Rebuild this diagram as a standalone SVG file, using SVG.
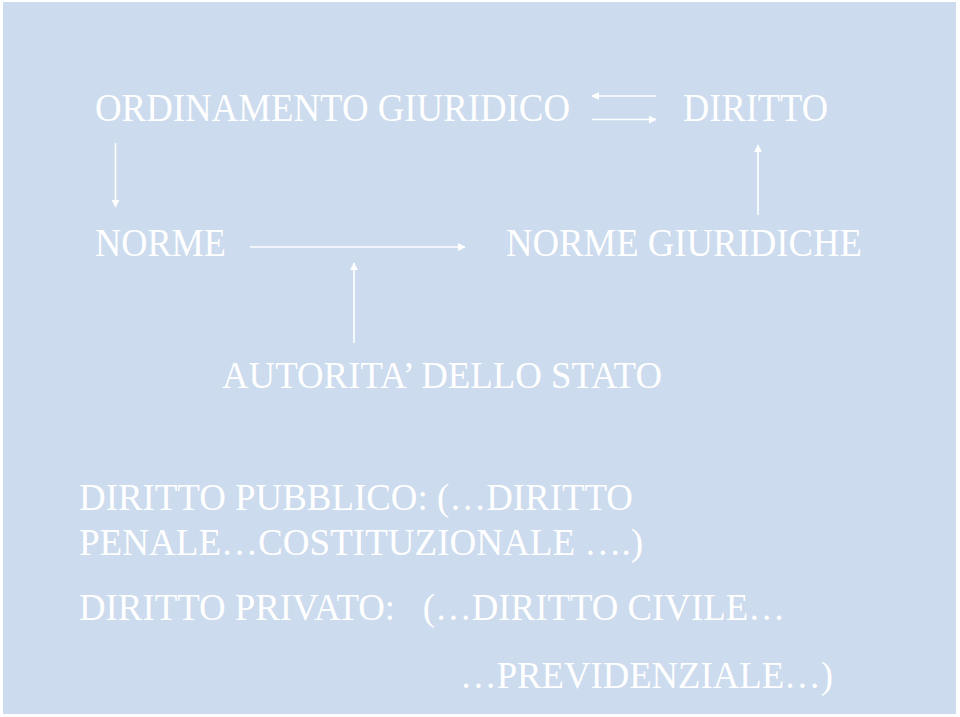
<svg xmlns="http://www.w3.org/2000/svg" width="960" height="717" viewBox="0 0 960 717">
<defs>
<style>
.t{font-family:"Liberation Serif","Times New Roman",serif;fill:#FFFFFF;font-size:37px}
.big{font-size:39px}
.c{stroke:#FFFFFF;stroke-width:1.6;fill:none}
</style>
<marker id="ah" viewBox="0 0 10 10" refX="9" refY="5" markerWidth="8" markerHeight="8" markerUnits="userSpaceOnUse" orient="auto">
<path d="M0,0 L10,5 L0,10 z" fill="#FFFFFF"/>
</marker>
</defs>
<rect x="0" y="0" width="960" height="717" fill="#FFFFFF"/>
<rect x="3" y="2" width="953" height="712" fill="#CCDBED"/>
<g id="ordinamento"><text class="t big" x="95" y="121" textLength="475" lengthAdjust="spacingAndGlyphs">ORDINAMENTO GIURIDICO</text></g>
<g id="diritto"><text class="t big" x="683" y="121" textLength="145" lengthAdjust="spacingAndGlyphs">DIRITTO</text></g>
<g id="norme"><text class="t big" x="95" y="256" textLength="131" lengthAdjust="spacingAndGlyphs">NORME</text></g>
<g id="norme-giuridiche"><text class="t big" x="506" y="256" textLength="356" lengthAdjust="spacingAndGlyphs">NORME GIURIDICHE</text></g>
<g id="autorita"><text class="t" x="222" y="388" textLength="440" lengthAdjust="spacingAndGlyphs">AUTORITA’ DELLO STATO</text></g>
<g id="pubblico">
<text class="t" x="79" y="510" textLength="554" lengthAdjust="spacingAndGlyphs">DIRITTO PUBBLICO: (…DIRITTO</text>
<text class="t" x="79" y="555" textLength="564" lengthAdjust="spacingAndGlyphs">PENALE…COSTITUZIONALE ….)</text>
</g>
<g id="privato">
<text class="t" x="79" y="620" textLength="706" lengthAdjust="spacingAndGlyphs" xml:space="preserve">DIRITTO PRIVATO:   (…DIRITTO CIVILE…</text>
<text class="t" x="460" y="688" textLength="373" lengthAdjust="spacingAndGlyphs">…PREVIDENZIALE…)</text>
</g>
<g id="connectors">
<line class="c" x1="656" y1="96" x2="592" y2="96" marker-end="url(#ah)"/>
<line class="c" x1="592" y1="119.5" x2="656" y2="119.5" marker-end="url(#ah)"/>
<line class="c" x1="115.5" y1="143" x2="115.5" y2="207" marker-end="url(#ah)"/>
<line class="c" x1="758" y1="215" x2="758" y2="145" marker-end="url(#ah)"/>
<line class="c" x1="250" y1="247" x2="465" y2="247" marker-end="url(#ah)"/>
<line class="c" x1="354" y1="343" x2="354" y2="263" marker-end="url(#ah)"/>
</g>
</svg>
